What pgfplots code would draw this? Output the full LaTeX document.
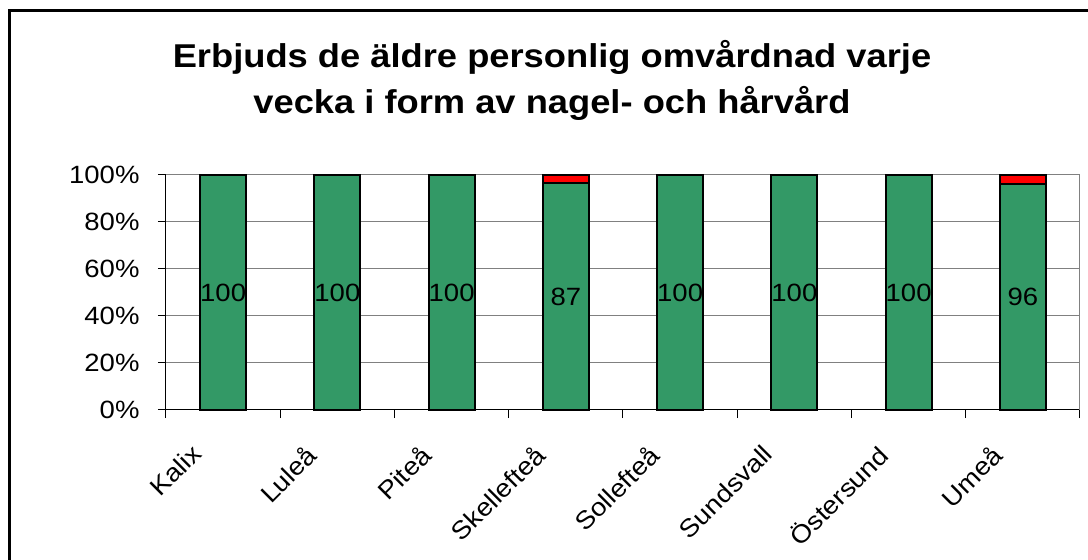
\documentclass[border=0pt]{standalone}
\usepackage{pgfplots}
\pgfplotsset{compat=1.18}
\usepackage{pgfplotstable}
\usepackage{fontspec}
\setmainfont{Liberation Sans}[FakeStretch=1.1]
\definecolor{barGreen}{RGB}{51,153,102}
\definecolor{gridGray}{RGB}{128,128,128}
\pgfplotstableread{
idx green count
0 100 100
1 100 100
2 100 100
3 96.67 87
4 100 100
5 100 100
6 100 100
7 96 96
}\greendata
\pgfplotstableread{
idx total
3 100
7 100
}\reddata
\begin{document}
\begin{tikzpicture}[x=1pt,y=1pt]
\path[use as bounding box] (0,0) rectangle (1088,560);
\draw[line width=3pt] (9,0) -- (9,549.5) -- (1088,549.5);
\node[font=\bfseries\fontsize{33}{46}\selectfont, align=center] at (552,480) {Erbjuds de äldre personlig omvårdnad varje\\vecka i form av nagel- och hårvård};
\begin{axis}[
 at={(166pt,150pt)}, anchor=south west, scale only axis, width=914pt, height=235pt,
 xmin=-0.5, xmax=7.5, ymin=0, ymax=100, clip=false,
 axis x line*=bottom, axis y line*=left, axis line style={black, line width=1pt, -},
 ytick={0,20,...,100}, yticklabel={\pgfmathprintnumber{\tick}\%},
 /pgf/number format/assume math mode=true,
 ymajorgrids, grid style={gridGray, line width=1pt},
 xtick={0,...,7}, xticklabels={Kalix,Luleå,Piteå,Skellefteå,Sollefteå,Sundsvall,Östersund,Umeå},
 minor xtick={-0.5,0.5,...,7.5},
 tick align=outside, major tick length=8pt, minor tick length=8pt,
 every major x tick/.append style={draw=none},
 tick style={black, line width=1pt},
 ticklabel style={font=\fontsize{25}{30}\selectfont},
 yticklabel style={xshift=-15pt},
 xticklabel style={xshift=-33pt, yshift=-20pt, rotate=45, anchor=north east},
]
\addplot[ybar, bar shift=0pt, bar width=46pt, fill=red, draw=black, line width=2pt] table[x=idx,y=total]{\reddata};
\addplot[ybar, bar shift=0pt, bar width=46pt, fill=barGreen, draw=black, line width=2pt,
  nodes near coords, point meta=explicit,
  visualization depends on={y \as \ry},
  every node near coord/.append style={anchor=center, yshift={-1.175*\ry}, font=\fontsize{25}{30}\selectfont, text=black}]
  table[x=idx,y=green,meta=count]{\greendata};
\draw[gridGray, line width=1pt] (rel axis cs:1,0) -- (rel axis cs:1,1);
\end{axis}
\end{tikzpicture}
\end{document}
